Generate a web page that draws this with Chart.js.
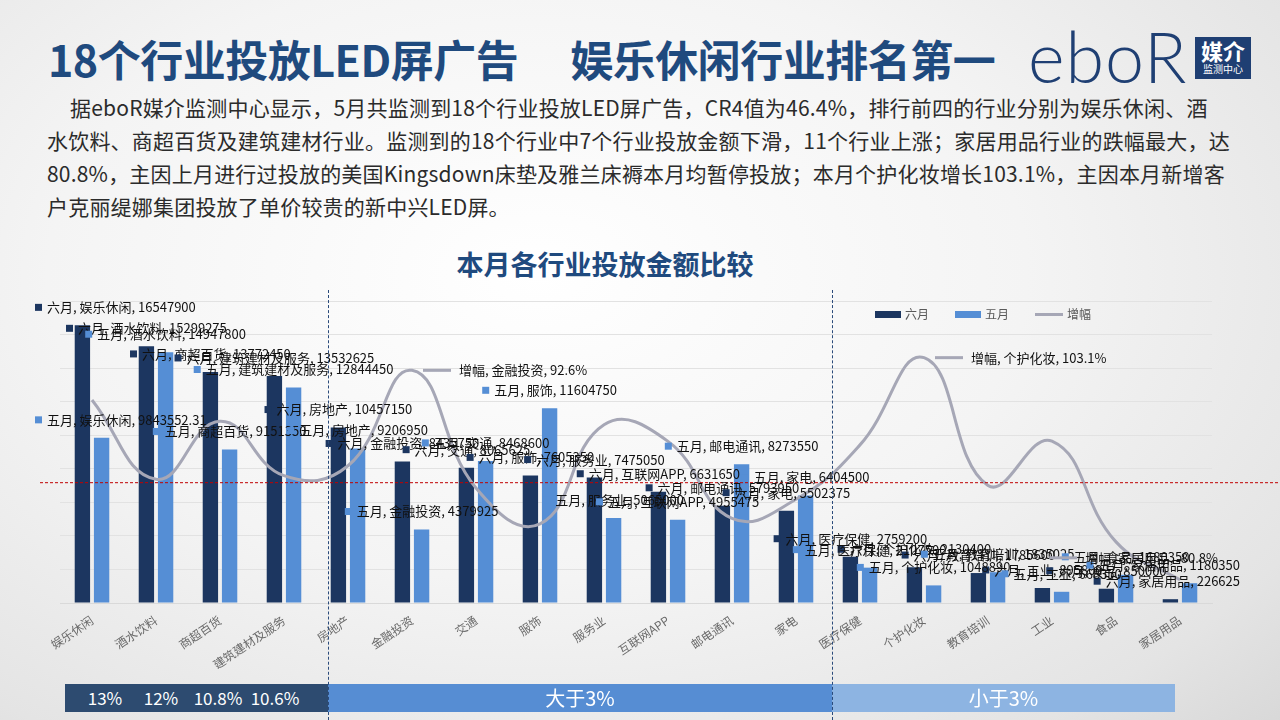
<!DOCTYPE html>
<html>
<head>
<meta charset="utf-8">
<script src="https://cdn.jsdelivr.net/npm/chart.js@4.4.1/dist/chart.umd.min.js"></script>
<style>
  body {
    margin: 0;
    width: 1280px;
    height: 720px;
    overflow: hidden;
    position: relative;
    font-family: "Noto Sans CJK SC", sans-serif;
    background: radial-gradient(ellipse 85% 95% at 42% 38%, #ffffff 0%, #f4f4f4 45%, #e4e4e4 80%, #d4d4d4 100%);
  }
  #title {
    position: absolute; left: 48px; top: 28px;
    font-size: 43px; font-weight: 700; color: #1f4a7e;
    line-height: 60px; white-space: nowrap; letter-spacing: -0.5px;
  }
  #logo {
    position: absolute; left: 1028px; top: 18px;
    font-family: Lato, sans-serif; font-weight: 300; font-size: 70px;
    color: #1f3f73; line-height: 76px; letter-spacing: 1px;
  }
  #logoBox {
    position: absolute; left: 1195px; top: 37px; width: 56px; height: 42px;
    background: #1f3f73; color: #fff; text-align: center;
  }
  #logoBox .a { font-size: 22px; font-weight: 700; line-height: 26px; font-family: "Noto Sans CJK SC"; }
  #logoBox .b { font-size: 10px; line-height: 12px; }
  #para {
    position: absolute; left: 47px; top: 91px; width: 1200px;
    font-size: 21px; line-height: 33px; color: #2b2b2b; white-space: nowrap; letter-spacing: 0.2px;
  }
  #chartTitle {
    position: absolute; left: 0; width: 1210px; top: 246px; text-align: center;
    font-size: 27px; font-weight: 700; color: #1f4a7e; line-height: 36px;
  }
  #wrap { position: absolute; left: 0; top: 285px; width: 1280px; height: 400px; }
  .vdash { position: absolute; top: 290px; height: 430px; border-left: 1px dashed #2a4a7a; z-index: 5; }
  .seg { position: absolute; top: 684px; height: 28px; color: #fff; line-height: 28px; z-index: 2; }
  .seg span { position: absolute; font-size: 17px; transform: translateX(-50%); }
</style>
</head>
<body>
<div id="title">18个行业投放LED屏广告<span style="display:inline-block;width:52px"></span>娱乐休闲行业排名第一</div>
<div id="logo">eboR</div>
<div id="logoBox"><div class="a">媒介</div><div class="b">监测中心</div></div>
<div id="para">
<span style="padding-left:23px"></span>据eboR媒介监测中心显示，5月共监测到18个行业投放LED屏广告，CR4值为46.4%，排行前四的行业分别为娱乐休闲、酒<br>
水饮料、商超百货及建筑建材行业。监测到的18个行业中7个行业投放金额下滑，11个行业上涨；家居用品行业的跌幅最大，达<br>
80.8%，主因上月进行过投放的美国Kingsdown床垫及雅兰床褥本月均暂停投放；本月个护化妆增长103.1%，主因本月新增客<br>
户克丽缇娜集团投放了单价较贵的新中兴LED屏。
</div>
<div id="chartTitle">本月各行业投放金额比较</div>
<div id="wrap"><canvas id="c" width="1280" height="400"></canvas></div>
<div class="vdash" style="left:328px"></div>
<div class="vdash" style="left:832px"></div>
<div class="seg" style="left:65px;width:263px;background:#2d4b70">
  <span style="left:40px">13%</span><span style="left:96px">12%</span><span style="left:153px">10.8%</span><span style="left:210px">10.6%</span>
</div>
<div class="seg" style="left:328px;width:504px;background:#568dd3;text-align:center;font-size:20px">大于3%</div>
<div class="seg" style="left:832px;width:343px;background:#8db4e2;text-align:center;font-size:20px">小于3%</div>

<script>
const categories = ["娱乐休闲", "酒水饮料", "商超百货", "建筑建材及服务", "房地产", "金融投资", "交通", "服饰", "服务业",
  "互联网APP", "邮电通讯", "家电", "医疗保健", "个护化妆", "教育培训", "工业", "食品", "家居用品"];
const june = [16547900, 15299275, 13772450, 13532625, 10457150, 8435750, 8065625, 7605350, 7475050,
  6631650, 5793950, 5502375, 2759200, 2130400, 1785600, 895800, 850000, 226625];
const may = [9843552.31, 14947800, 9151350, 12844450, 9206950, 4379925, 8468600, 11604750, 5065000,
  4955475, 8273550, 6404500, 2107500, 1048890, 1835025, 668350, 1680350, 1180350];
// 增幅 (%)
const growth = [68.1, 2.4, 50.5, 5.4, 13.6, 92.6, -4.8, -34.5, 47.6, 33.8, -30.0, -14.1, 30.9, 103.1, -2.7, 34.0, -49.4, -80.8];
const growthLabelAt = ["金融投资", "个护化妆", "家居用品"];
const seriesNames = ["六月", "五月", "增幅"];

const DARK = "#1c3660", LIGHT = "#558ed5", GRAY = "#a6a7b6";
const labelFont = '13px "Noto Sans CJK SC", sans-serif';

const decor = {
  id: "decor",
  afterDatasetsDraw(chart) {
    const ctx = chart.ctx;
    const area = chart.chartArea;
    // red dashed zero line of 增幅
    const y0 = chart.scales.y2.getPixelForValue(0);
    ctx.save();
    ctx.strokeStyle = "#c00000";
    ctx.lineWidth = 1;
    ctx.setLineDash([3, 2]);
    ctx.beginPath();
    ctx.moveTo(40, y0 + 0.5);
    ctx.lineTo(chart.width, y0 + 0.5);
    ctx.stroke();
    ctx.setLineDash([]);

    ctx.font = labelFont;
    ctx.textBaseline = "middle";
    // bar labels
    [0, 1].forEach(di => {
      const ds = chart.data.datasets[di];
      chart.getDatasetMeta(di).data.forEach((bar, i) => {
        const text = ds.label + ", " + categories[i] + ", " + ds.data[i];
        const w = 12 + ctx.measureText(text).width;
        let x = bar.x - w / 2;
        x = Math.max(35, Math.min(x, 1240 - w));
        const y = bar.y - 18;
        ctx.fillStyle = ds.backgroundColor;
        ctx.fillRect(x, y - 3.5, 7, 7);
        ctx.fillStyle = "#111";
        ctx.fillText(text, x + 12, y);
      });
    });
    // line labels
    const lmeta = chart.getDatasetMeta(2);
    growthLabelAt.forEach(name => {
      const i = categories.indexOf(name);
      const pt = lmeta.data[i];
      const text = seriesNames[2] + ", " + name + ", " + growth[i] + "%";
      const w = 38 + ctx.measureText(text).width;
      let x = pt.x + 11, y = pt.y;
      if (x + w > area.right + 8) { x = area.right + 8 - w; y -= 22; }
      ctx.strokeStyle = GRAY;
      ctx.lineWidth = 3;
      ctx.beginPath();
      ctx.moveTo(x, y);
      ctx.lineTo(x + 28, y);
      ctx.stroke();
      ctx.fillStyle = "#111";
      ctx.fillText(text, x + 36, y);
    });

    // legend
    ctx.font = '12px "Noto Sans CJK SC", sans-serif';
    const ly = 29;
    ctx.fillStyle = DARK; ctx.fillRect(875, ly - 3, 26, 7);
    ctx.fillStyle = LIGHT; ctx.fillRect(955, ly - 3, 26, 7);
    ctx.strokeStyle = GRAY; ctx.lineWidth = 3;
    ctx.beginPath(); ctx.moveTo(1035, ly + 0.5); ctx.lineTo(1063, ly + 0.5); ctx.stroke();
    ctx.fillStyle = "#595959";
    ctx.fillText(seriesNames[0], 905, ly);
    ctx.fillText(seriesNames[1], 985, ly);
    ctx.fillText(seriesNames[2], 1067, ly);
    ctx.restore();
  }
};

new Chart(document.getElementById("c"), {
  type: "bar",
  data: {
    labels: categories,
    datasets: [
      { label: seriesNames[0], data: june, backgroundColor: DARK, yAxisID: "y", categoryPercentage: 0.6, barPercentage: 0.8, order: 2 },
      { label: seriesNames[1], data: may, backgroundColor: LIGHT, yAxisID: "y", categoryPercentage: 0.6, barPercentage: 0.8, order: 2 },
      { type: "line", label: seriesNames[2], data: growth, borderColor: GRAY, borderWidth: 3, pointRadius: 0,
        tension: 0.45, yAxisID: "y2", order: 1 }
    ]
  },
  options: {
    responsive: false,
    animation: false,
    layout: { padding: { left: 60, right: 68, top: 16, bottom: 16 } },
    plugins: { legend: { display: false }, tooltip: { enabled: false } },
    scales: {
      x: {
        grid: { display: false },
        border: { color: "#d9d9d9" },
        ticks: { minRotation: 34, maxRotation: 34, autoSkip: false, color: "#6a6a6a", padding: 2,
          font: { size: 12, family: '"Noto Sans CJK SC", sans-serif' } },
        afterFit(s) { s.height = 66; }
      },
      y: {
        min: 0, max: 18000000,
        ticks: { display: false, stepSize: 2000000 },
        grid: { color: "#e2e2e2", drawTicks: false },
        border: { display: false },
        afterFit(s) { s.width = 0; }
      },
      y2: { display: false, min: -100, max: 150 }
    }
  },
  plugins: [decor]
});
</script>
</body>
</html>
